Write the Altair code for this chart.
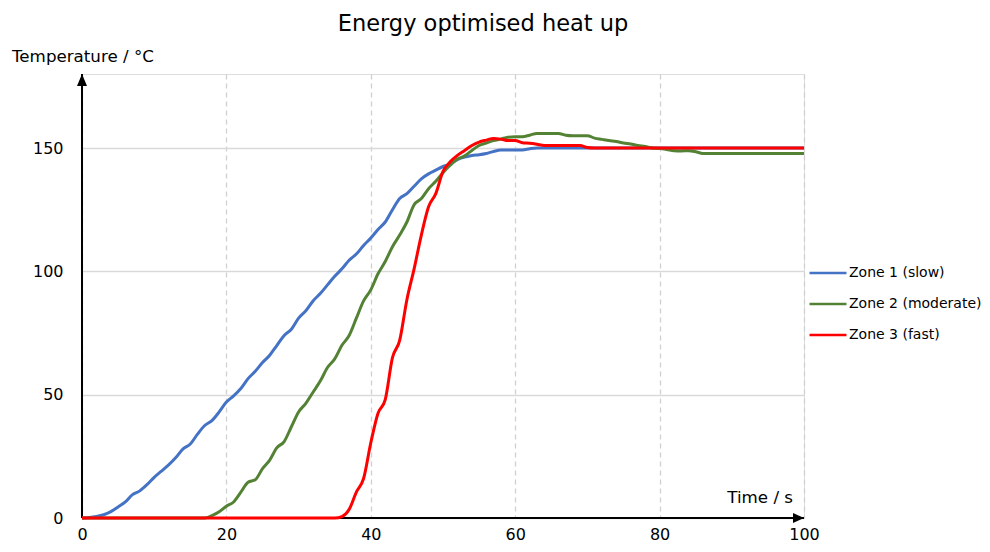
import altair as alt
import pandas as pd

TITLE = "Energy optimised heat up"
Y_TITLE = "Temperature / °C"
X_TITLE = "Time / s"
SERIES = ["Zone 1 (slow)", "Zone 2 (moderate)", "Zone 3 (fast)"]
COLORS = ["#4472C4", "#548235", "#FF0000"]
X_TICKS = [0, 20, 40, 60, 80, 100]
Y_TICKS = [0, 50, 100, 150]

time_s = list(range(101))

zone1 = [
    0, 0.2, 0.6, 1.3, 2.6, 4.5, 6.5, 9.5, 11, 13.5,
    16.5, 19, 21.5, 24.5, 28, 30, 34, 37.5, 39.5, 43,
    47, 49.5, 52.5, 56.5, 59.5, 63, 66, 70, 74, 76.5,
    81, 84, 88, 91, 94.5, 98, 101, 104.5, 107, 110.5,
    113.5, 117, 120, 125, 129.5, 131.5, 134.5, 137.5, 139.5, 141,
    142.5, 143.5, 145.3, 146.3, 147, 147.3, 147.8, 148.6, 149.2, 149.2,
    149.2, 149.2, 149.7, 150, 150, 150, 150, 150, 150, 150,
    150, 150, 150, 150, 150, 150, 150, 150, 150, 150,
    150, 150, 150, 150, 150, 150, 150, 150, 150, 150,
    150, 150, 150, 150, 150, 150, 150, 150, 150, 150,
    150,
]

zone2 = [
    0, 0, 0, 0, 0, 0, 0, 0, 0, 0,
    0, 0, 0, 0, 0, 0, 0, 0, 1.0, 2.5,
    4.8, 6.5, 10.5, 14.5, 15.5, 20, 23.5, 28.5, 31, 37,
    43, 46.5, 51, 55.5, 61, 64.5, 70, 74, 81, 88,
    92.5, 99, 104, 110, 114.7, 120, 127, 129.5, 133.5, 136.5,
    140, 143, 145.5, 146.8, 149, 151, 152, 153, 153.6, 154.4,
    154.6, 154.6, 155.2, 155.9, 155.9, 155.9, 155.9, 155.2, 155, 155,
    155, 154, 153.5, 153, 152.6, 152, 151.6, 151, 150.6, 150,
    149.8, 149.4, 148.9, 148.8, 148.9, 148.5, 147.8, 147.8, 147.8, 147.8,
    147.8, 147.8, 147.8, 147.8, 147.8, 147.8, 147.8, 147.8, 147.8, 147.8,
    147.8,
]

zone3 = [
    0, 0, 0, 0, 0, 0, 0, 0, 0, 0,
    0, 0, 0, 0, 0, 0, 0, 0, 0, 0,
    0, 0, 0, 0, 0, 0, 0, 0, 0, 0,
    0, 0, 0, 0, 0, 0, 0.6, 3.5, 10.5, 16,
    30.5, 42.5, 48, 65, 72, 88.5, 101, 114.7, 126.2, 131.5,
    140.5, 144.4, 147, 149, 151, 152.4, 153.2, 153.9, 153.6, 153,
    153, 152.1, 151.9, 151.5, 151, 151, 151, 151, 151, 151,
    150.2, 150, 150, 150, 150, 150, 150, 150, 150, 150,
    150, 150, 150, 150, 150, 150, 150, 150, 150, 150,
    150, 150, 150, 150, 150, 150, 150, 150, 150, 150,
    150,
]

FONT = "DejaVu Sans"

rows = []
for name, vals in zip(SERIES, [zone1, zone2, zone3]):
    for t, v in zip(time_s, vals):
        rows.append({"t": t, "T": v, "zone": name})
df = pd.DataFrame(rows)

xscale = alt.Scale(domain=[0, 100], nice=False, zero=False)
yscale = alt.Scale(domain=[0, 180], nice=False, zero=False)

x_axis = alt.Axis(values=X_TICKS, domain=False, ticks=False, grid=True,
                  gridColor="#d0d0d0", gridDash=[5, 4], gridWidth=1.3,
                  labelFont=FONT, labelFontSize=16, labelColor="black",
                  labelPadding=8, labelFlush=False, labelOverlap=False, title=None)
y_axis = alt.Axis(values=Y_TICKS, domain=False, ticks=False, grid=True,
                  gridColor="#d9d9d9", gridWidth=1.5,
                  labelFont=FONT, labelFontSize=16, labelColor="black",
                  labelPadding=19, labelFlush=False, labelOverlap=False, title=None)

one = pd.DataFrame({"k": [0]})

# axis lines with arrow heads
y_line = alt.Chart(one).mark_rule(color="black", strokeWidth=2).encode(
    x=alt.datum(0, scale=xscale, axis=x_axis, type="quantitative"),
    y=alt.datum(0, scale=yscale, axis=y_axis, type="quantitative"),
    y2=alt.datum(180),
)
x_line = alt.Chart(one).mark_rule(color="black", strokeWidth=2).encode(
    x=alt.datum(0), x2=alt.datum(100), y=alt.datum(0),
)
y_arrow = alt.Chart(one).mark_point(shape="M0,0L-1,2.4L1,2.4Z", filled=True,
                                    color="black", opacity=1, size=100).encode(
    x=alt.datum(0), y=alt.datum(180))
x_arrow = alt.Chart(one).mark_point(shape="M0,0L-2.2,-1L-2.2,1Z", filled=True,
                                    color="black", opacity=1, size=100).encode(
    x=alt.datum(100), y=alt.datum(0))

lines = alt.Chart(df).mark_line(strokeWidth=3, interpolate="monotone").encode(
    x=alt.X("t:Q"),
    y=alt.Y("T:Q"),
    color=alt.Color("zone:N", scale=alt.Scale(domain=SERIES, range=COLORS),
                    legend=alt.Legend(orient="none", legendX=729, legendY=182, title=None,
                                      symbolType="M-1.2,0H1.2", symbolSize=950,
                                      symbolStrokeWidth=2.5, labelFont=FONT,
                                      labelFontSize=14, labelColor="black",
                                      labelOffset=4, rowPadding=7, padding=0)),
)

title_txt = alt.Chart(pd.DataFrame({"s": [TITLE]})).mark_text(
    font=FONT, fontSize=22.5, color="black", align="center", baseline="alphabetic"
).encode(text="s:N", x=alt.value(401), y=alt.value(-43))

ytitle_txt = alt.Chart(pd.DataFrame({"s": [Y_TITLE]})).mark_text(
    font=FONT, fontSize=16.7, color="black", align="left", baseline="alphabetic"
).encode(text="s:N", x=alt.value(-70), y=alt.value(-12))

xtitle_txt = alt.Chart(pd.DataFrame({"s": [X_TITLE]})).mark_text(
    font=FONT, fontSize=16.7, color="black", align="right", baseline="alphabetic"
).encode(text="s:N", x=alt.value(711), y=alt.value(429))

chart = alt.layer(
    y_line, x_line, lines, y_arrow, x_arrow, title_txt, ytitle_txt, xtitle_txt
).properties(
    width=722, height=444,
    autosize=alt.AutoSizeParams(type="none"),
    padding={"left": 74, "top": 66, "right": 178, "bottom": 26},
).configure_view(stroke=None).configure(background="white")

chart.save("out.html", embed_options={"renderer": "svg", "actions": False})
